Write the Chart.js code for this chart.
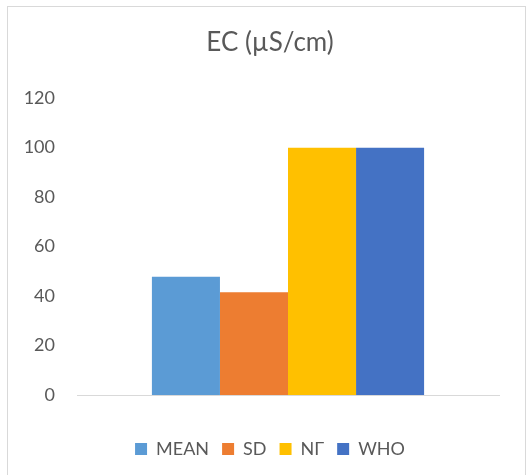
<!DOCTYPE html>
<html>
<head>
<meta charset="utf-8">
<script src="https://cdn.jsdelivr.net/npm/chart.js@4/dist/chart.umd.min.js"></script>
<style>
  html, body { margin: 0; padding: 0; background: #ffffff; overflow: hidden; }
  #frame { position: absolute; left: 7px; top: 6px; width: 519px; height: 480px; border: 1px solid #d9d9d9; box-sizing: border-box; }
  #wrap { position: absolute; left: 0; top: 0; width: 527px; height: 475px; }
</style>
</head>
<body>
<div id="frame"></div>
<div id="wrap"><canvas id="c" width="527" height="475"></canvas></div>
<script>
const chartTitle = "EC (µS/cm)";
const categories = [""];
const seriesNames = ["MEAN", "SD", "NΓ", "WHO"];
const seriesValues = [[47.8], [41.5], [100], [100]];
const seriesColors = ["#5B9BD5", "#ED7D31", "#FFC000", "#4472C4"];
const yTicks = [0, 20, 40, 60, 80, 100, 120];

const FONT = "'Lato', sans-serif";
const TEXT = "#595959";

const datasets = seriesNames.map((n, i) => ({
  label: n,
  data: seriesValues[i],
  backgroundColor: seriesColors[i],
  borderWidth: 0,
  barPercentage: 1.0,
  categoryPercentage: 0.645
}));

new Chart(document.getElementById('c'), {
  type: 'bar',
  data: { labels: categories, datasets },
  options: {
    responsive: false,
    animation: false,
    devicePixelRatio: 1,
    layout: { padding: { left: 20, right: 7, top: 0, bottom: 7 } },
    plugins: {
      tooltip: { enabled: false },
      title: {
        display: true,
        text: chartTitle,
        color: TEXT,
        font: { family: FONT, size: 26, weight: 'normal', lineHeight: 1.2 },
        padding: { top: 27, bottom: 40 }
      },
      legend: {
        position: 'bottom',
        labels: {
          color: TEXT,
          font: { family: FONT, size: 18 },
          boxWidth: 12,
          boxHeight: 12,
          padding: 13
        }
      }
    },
    scales: {
      x: {
        grid: { display: false, drawTicks: false },
        border: { display: true, color: '#d9d9d9', width: 1 },
        ticks: { display: false },
        afterFit: (a) => { a.height = 32; }
      },
      y: {
        min: 0,
        max: 120,
        afterBuildTicks: (a) => { a.ticks = yTicks.map(v => ({ value: v })); },
        grid: { display: false, drawTicks: false },
        border: { display: false },
        ticks: { color: TEXT, font: { family: FONT, size: 18 }, padding: 22 },
        afterFit: (a) => { a.width = 57; }
      },
      spacer: {
        position: 'right',
        display: true,
        min: 0,
        max: 1,
        grid: { display: false, drawTicks: false },
        border: { display: false },
        ticks: { display: false },
        afterFit: (a) => { a.width = 21; }
      }
    }
  }
});
</script>
</body>
</html>
